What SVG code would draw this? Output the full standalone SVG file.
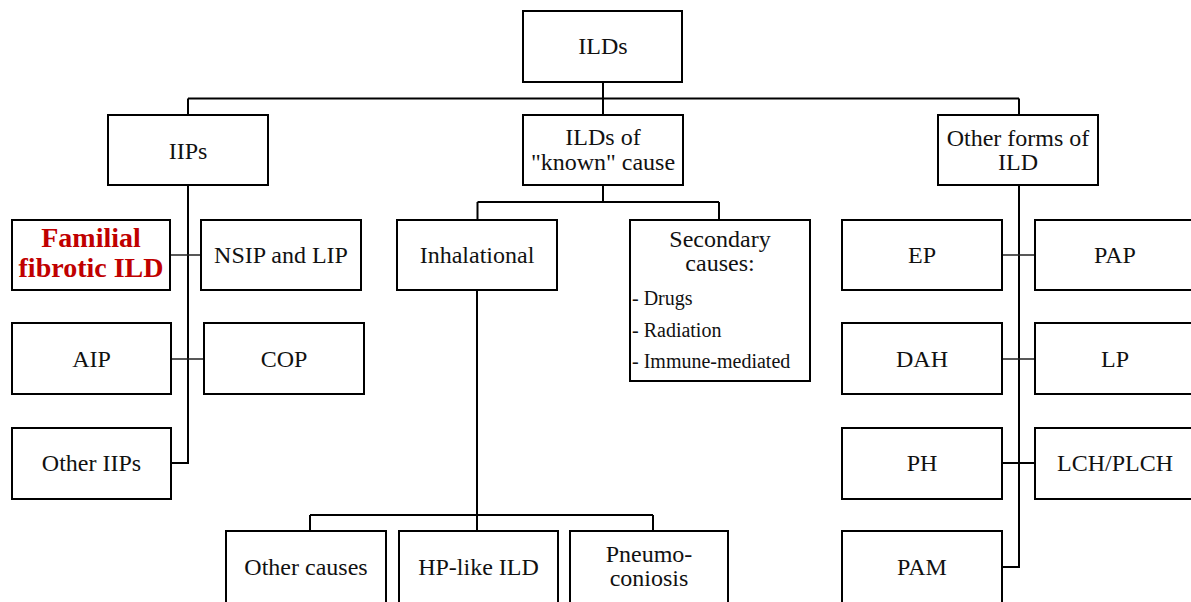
<svg xmlns="http://www.w3.org/2000/svg" width="1191" height="602" viewBox="0 0 1191 602">
<style>
.box{fill:#fff;stroke:#000;stroke-width:2}
.t{font-family:'Liberation Serif','Times New Roman',Times,serif;font-size:24px;fill:#111;text-anchor:middle}
.s{font-family:'Liberation Serif','Times New Roman',Times,serif;font-size:20px;fill:#111}
.red{font-family:'Liberation Serif','Times New Roman',Times,serif;font-size:28px;font-weight:bold;fill:#C00000;text-anchor:middle}
.c{fill:none;stroke:#000;stroke-width:2}
.c2{fill:none;stroke:#222;stroke-width:1.4}
</style>
<rect width="1191" height="602" fill="#fff"/>
<g id="connectors">
<path class="c" d="M603,82V115M188,98.5H1019M188,98.5V115M1019,98.5V115"/>
<path class="c" d="M188,185V463H171"/>
<path class="c2" d="M170,255H201M171,359H204"/>
<path class="c" d="M603,185V202M477.5,202H719M477.5,202V220M719,202V220"/>
<path class="c" d="M477,290V531M310,515H653M310,515V531M653,515V531"/>
<path class="c" d="M1019,185V567H1002"/>
<path class="c2" d="M1002,255H1035M1002,359H1035"/>
<path class="c" d="M1002,463H1035"/>
</g>
<g id="n-ilds"><rect class="box" x="523" y="11" width="159" height="71"/><text class="t" x="603" y="54">ILDs</text></g>
<g id="n-iips"><rect class="box" x="108" y="115" width="160" height="70"/><text class="t" x="188" y="159">IIPs</text></g>
<g id="n-known"><rect class="box" x="523" y="115" width="160" height="70"/><text class="t" x="603" y="145">ILDs of</text><text class="t" x="603" y="169.5">"known" cause</text></g>
<g id="n-other-forms"><rect class="box" x="938" y="115" width="160" height="70"/><text class="t" x="1018" y="146">Other forms of</text><text class="t" x="1018" y="170">ILD</text></g>
<g id="n-familial"><rect class="box" x="12" y="220" width="158" height="70"/><text class="red" x="91" y="247">Familial</text><text class="red" x="91" y="277">fibrotic ILD</text></g>
<g id="n-nsip"><rect class="box" x="201" y="220" width="160" height="70"/><text class="t" x="281" y="263">NSIP and LIP</text></g>
<g id="n-aip"><rect class="box" x="12" y="323" width="159" height="71"/><text class="t" x="91.5" y="367">AIP</text></g>
<g id="n-cop"><rect class="box" x="204" y="323" width="160" height="71"/><text class="t" x="284" y="367">COP</text></g>
<g id="n-other-iips"><rect class="box" x="12" y="428" width="159" height="71"/><text class="t" x="91.5" y="471">Other IIPs</text></g>
<g id="n-inhal"><rect class="box" x="397" y="220" width="160" height="70"/><text class="t" x="477" y="263">Inhalational</text></g>
<g id="n-secondary"><rect class="box" x="630" y="220" width="180" height="161"/><text class="t" x="720" y="247">Secondary</text><text class="t" x="720" y="271">causes:</text><text class="s" x="632" y="305">- Drugs</text><text class="s" x="632" y="337">- Radiation</text><text class="s" x="632" y="368">- Immune-mediated</text></g>
<g id="n-other-causes"><rect class="box" x="226" y="531" width="160" height="72"/><text class="t" x="306" y="575">Other causes</text></g>
<g id="n-hp"><rect class="box" x="399" y="531" width="159" height="72"/><text class="t" x="478.5" y="575">HP-like ILD</text></g>
<g id="n-pneumo"><rect class="box" x="570" y="531" width="158" height="72"/><text class="t" x="649" y="562">Pneumo-</text><text class="t" x="649" y="586">coniosis</text></g>
<g id="n-ep"><rect class="box" x="842" y="220" width="160" height="70"/><text class="t" x="922" y="263">EP</text></g>
<g id="n-pap"><rect class="box" x="1035" y="220" width="160" height="70"/><text class="t" x="1115" y="263">PAP</text></g>
<g id="n-dah"><rect class="box" x="842" y="323" width="160" height="71"/><text class="t" x="922" y="367">DAH</text></g>
<g id="n-lp"><rect class="box" x="1035" y="323" width="160" height="71"/><text class="t" x="1115" y="367">LP</text></g>
<g id="n-ph"><rect class="box" x="842" y="428" width="160" height="71"/><text class="t" x="922" y="471">PH</text></g>
<g id="n-lch"><rect class="box" x="1035" y="428" width="160" height="71"/><text class="t" x="1115" y="471">LCH/PLCH</text></g>
<g id="n-pam"><rect class="box" x="842" y="531" width="160" height="72"/><text class="t" x="922" y="575">PAM</text></g>
</svg>
